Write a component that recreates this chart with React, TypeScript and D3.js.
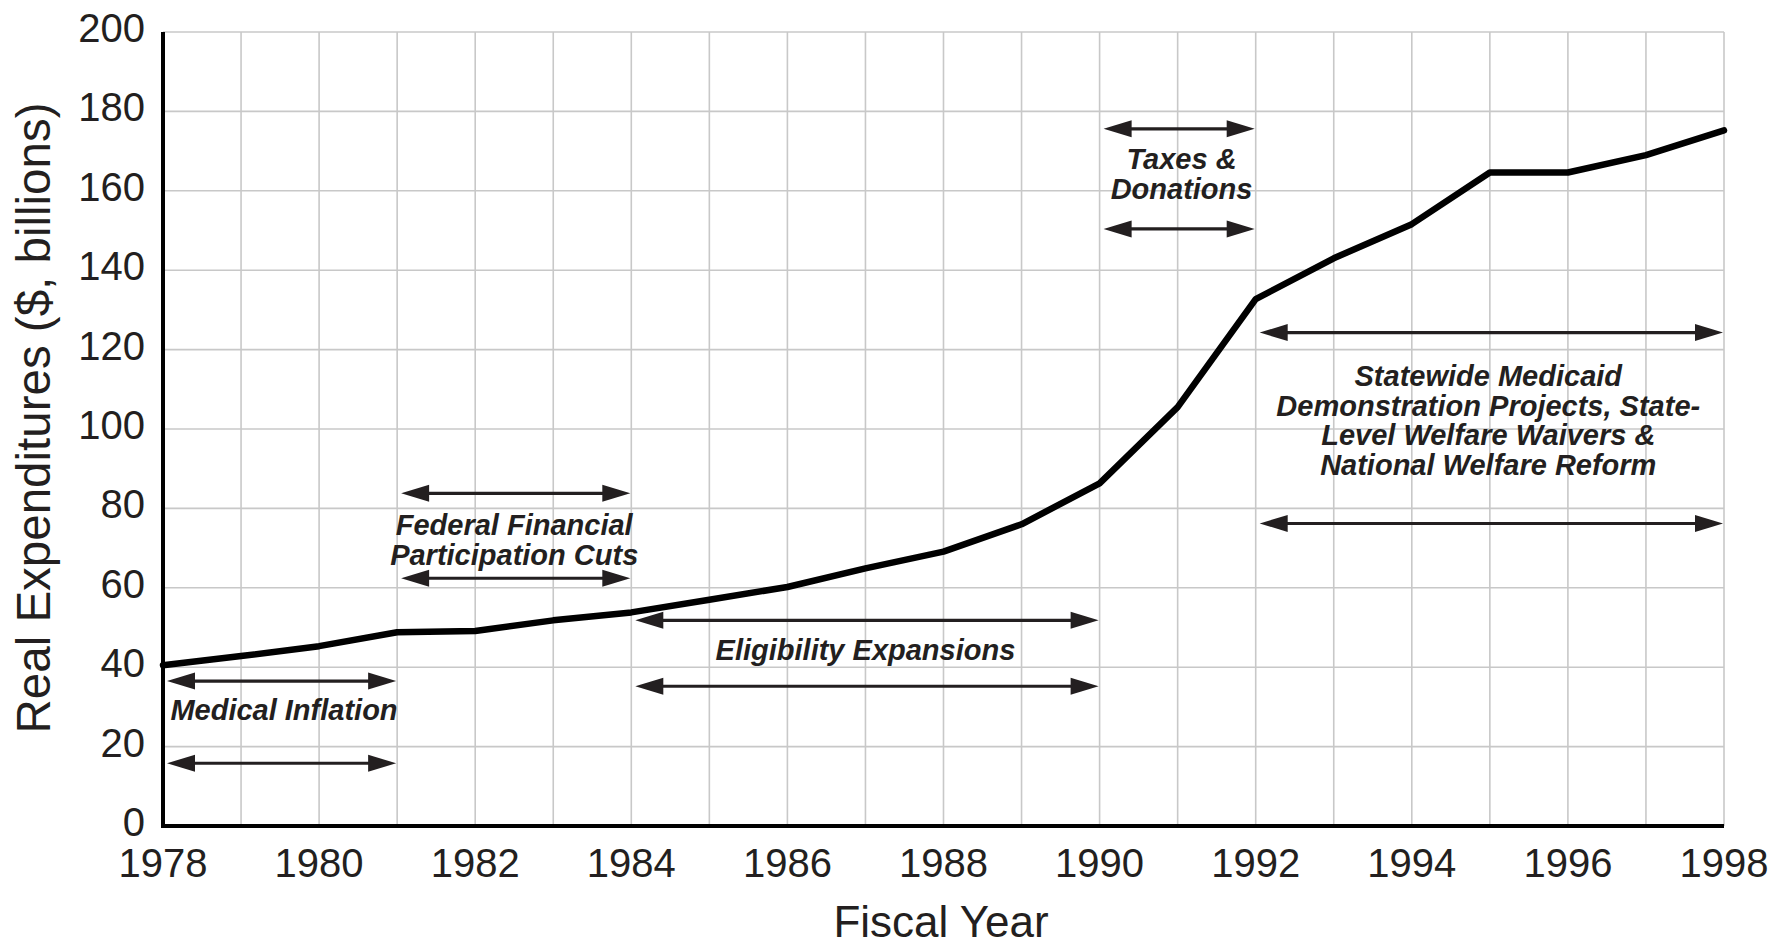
import React from "react";
import * as d3 from "d3";

const years = [1978, 1979, 1980, 1981, 1982, 1983, 1984, 1985, 1986, 1987, 1988, 1989, 1990, 1991, 1992, 1993, 1994, 1995, 1996, 1997, 1998];
const expenditures = [40.5, 42.8, 45.3, 48.8, 49.1, 51.8, 53.8, 57.0, 60.2, 64.9, 69.1, 76.0, 86.3, 105.5, 132.7, 143.0, 151.6, 164.6, 164.6, 169.0, 175.2];

const xTickLabels = [1978, 1980, 1982, 1984, 1986, 1988, 1990, 1992, 1994, 1996, 1998];
const yTickLabels = [0, 20, 40, 60, 80, 100, 120, 140, 160, 180, 200];

const spanStart = [1978, 1981, 1984, 1990, 1992];
const spanEnd = [1981, 1984, 1990, 1992, 1998];
const arrowTopValue = [36.5, 83.8, 51.8, 175.6, 124.3];
const arrowBottomValue = [15.8, 62.4, 35.2, 150.4, 76.2];
const labelLines = [
  ["Medical Inflation"],
  ["Federal Financial", "Participation Cuts"],
  ["Eligibility Expansions"],
  ["Taxes &", "Donations"],
  ["Statewide Medicaid", "Demonstration Projects, State-", "Level Welfare Waivers &", "National Welfare Reform"],
];
const labelYear = [1979.55, 1982.5, 1987.0, 1991.05, 1994.98];
const labelFirstValue = [26.7, 73.2, 41.8, 165.5, 110.8];

const W = 1786;
const H = 946;
const FONT = "'Liberation Sans', Arial, Helvetica, sans-serif";
const TEXT = "#231f20";

function Arrow({ x1, x2, y }: { x1: number; x2: number; y: number }) {
  const L = 28;
  const h = 8.5;
  return (
    <g fill={TEXT} stroke="none">
      <line x1={x1 + L - 2} x2={x2 - L + 2} y1={y} y2={y} stroke={TEXT} strokeWidth={3.2} />
      <path d={`M${x1},${y} L${x1 + L},${y - h} L${x1 + L},${y + h} Z`} />
      <path d={`M${x2},${y} L${x2 - L},${y - h} L${x2 - L},${y + h} Z`} />
    </g>
  );
}

export default function App() {
  const x = d3.scaleLinear().domain([1978, 1998]).range([163, 1724]);
  const y = d3.scaleLinear().domain([0, 200]).range([826, 32]);

  const line = d3
    .line<number>()
    .x((_, i) => x(years[i]))
    .y((d) => y(d))
    .curve(d3.curveLinear);

  const gridYears = d3.range(1978, 1999);

  return (
    <div style={{ position: "absolute", left: 0, top: 0 }}>
      <svg width={W} height={H} style={{ display: "block", background: "#fff" }}>
        <rect x={0} y={0} width={W} height={H} fill="#fff" />
        {/* grid */}
        <g stroke="#c8c8c8" strokeWidth={1.6}>
          {gridYears.map((yr) => (
            <line key={"gx" + yr} x1={x(yr)} x2={x(yr)} y1={y(200)} y2={y(0)} />
          ))}
          {yTickLabels.map((v) => (
            <line key={"gy" + v} x1={x(1978)} x2={x(1998)} y1={y(v)} y2={y(v)} />
          ))}
        </g>

        {/* annotations */}
        {spanStart.map((s, i) => {
          const x1 = x(s) + 4;
          const x2 = x(spanEnd[i]) - 1;
          return (
            <g key={"ann" + i}>
              <Arrow x1={x1} x2={x2} y={y(arrowTopValue[i])} />
              <Arrow x1={x1} x2={x2} y={y(arrowBottomValue[i])} />
              <text
                x={x(labelYear[i])}
                y={y(labelFirstValue[i])}
                textAnchor="middle"
                fontFamily={FONT}
                fontWeight="bold"
                fontStyle="italic"
                fontSize={29}
                fill={TEXT}
              >
                {labelLines[i].map((t, j) => (
                  <tspan key={j} x={x(labelYear[i])} dy={j === 0 ? 0 : 29.6}>
                    {t}
                  </tspan>
                ))}
              </text>
            </g>
          );
        })}

        {/* data line */}
        <path
          d={line(expenditures) || ""}
          fill="none"
          stroke="#000"
          strokeWidth={6.5}
          strokeLinejoin="round"
          strokeLinecap="round"
        />

        {/* axes */}
        <line x1={x(1978)} x2={x(1978)} y1={y(200)} y2={y(0) + 2} stroke="#000" strokeWidth={4} />
        <line x1={x(1978) - 2} x2={x(1998)} y1={y(0)} y2={y(0)} stroke="#000" strokeWidth={4} />

        {/* y tick labels */}
        {yTickLabels.map((v) => (
          <text
            key={"yt" + v}
            x={145}
            y={y(v) + 10}
            textAnchor="end"
            fontFamily={FONT}
            fontSize={40}
            fill={TEXT}
          >
            {v}
          </text>
        ))}

        {/* x tick labels */}
        {xTickLabels.map((v) => (
          <text
            key={"xt" + v}
            x={x(v)}
            y={y(0) + 51}
            textAnchor="middle"
            fontFamily={FONT}
            fontSize={40}
            fill={TEXT}
          >
            {v}
          </text>
        ))}

        {/* axis titles */}
        <text x={941} y={937} textAnchor="middle" fontFamily={FONT} fontSize={44} fill={TEXT}>
          Fiscal Year
        </text>
        <text
          transform={`translate(50,418) rotate(-90)`}
          textAnchor="middle"
          fontFamily={FONT}
          fontSize={47.5}
          fill={TEXT}
        >
          Real Expenditures ($, billions)
        </text>
      </svg>
    </div>
  );
}
